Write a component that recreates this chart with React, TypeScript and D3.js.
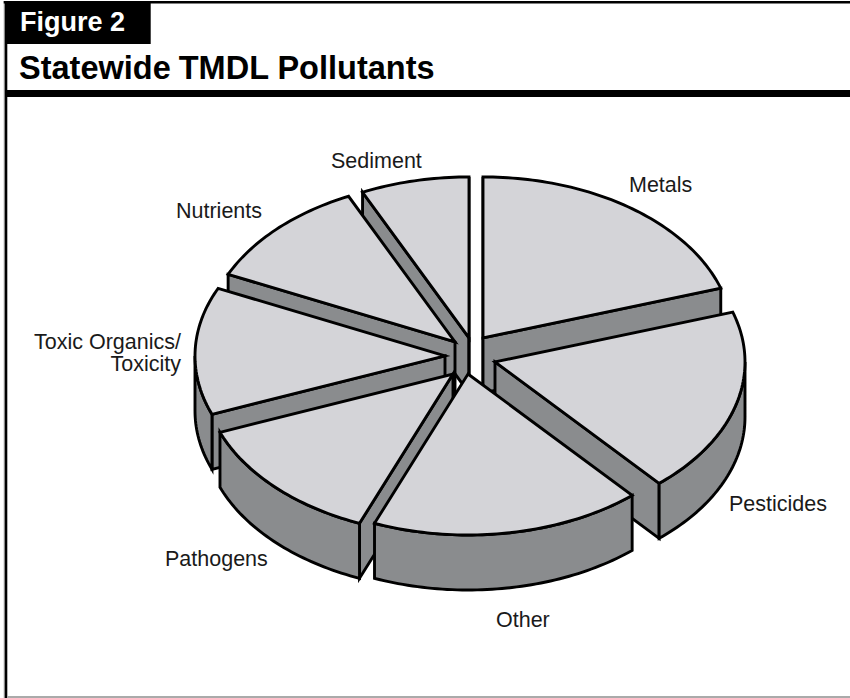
import React from "react";
import * as d3 from "d3";

// Share of statewide TMDLs per pollutant, clockwise from 12 o'clock.
const categories = ["Metals", "Pesticides", "Other", "Pathogens", "Toxic Organics/Toxicity", "Nutrients", "Sediment"];
const shares = [20, 18.6, 17.5, 13, 12.8, 11.1, 7];

// How far each wedge is pulled out of the pie, as a fraction of the radii.
const pullX = [0.056, 0.104, -0.004, -0.064, -0.096, -0.056, 0];
const pullY = [-0.106, 0.043, 0.118, 0.118, 0.006, -0.081, -0.106];

// Back-to-front drawing order so nearer wedges overlap farther ones.
const paintOrder = [6, 0, 5, 4, 1, 3, 2];

const W = 850;
const H = 698;
const CX = 469;
const CY = 355;
const RX = 250;
const RY = 161;
const DEPTH = 55;
const TOP_FILL = "#d4d4d8";
const WALL_FILL = "#8a8c8e";
const FONT = "'Liberation Sans', Arial, sans-serif";

const sx = d3.scaleLinear().domain([-1, 1]).range([-RX, RX]);
const sy = d3.scaleLinear().domain([-1, 1]).range([-RY, RY]);

type P = [number, number];
const toLine = d3.line<P>().x((d) => d[0]).y((d) => d[1]);

const pieAngles = d3.pie<number>().sort(null).value((d) => d)(shares);

function rim(a0: number, a1: number): P[] {
  const n = Math.max(2, Math.ceil(Math.abs(a1 - a0) / 0.02));
  return d3.range(n + 1).map((i) => {
    const a = a0 + ((a1 - a0) * i) / n;
    return [sx(Math.sin(a)), sy(-Math.cos(a))] as P;
  });
}

const down = (pts: P[]): P[] => pts.map(([x, y]) => [x, y + DEPTH] as P);

function Wedge({ index }: { index: number }) {
  const { startAngle, endAngle } = pieAngles[index];
  const ox = CX + sx(pullX[index]);
  const oy = CY + sy(pullY[index]);
  const apex: P = [0, 0];
  const outer = rim(startAngle, endAngle);
  const common = { stroke: "#000", strokeWidth: 2.9, strokeLinejoin: "miter" as const, strokeMiterlimit: 6 };

  const radialWall = (edge: P) => [apex, edge, [edge[0], edge[1] + DEPTH] as P, [0, DEPTH] as P];
  const walls: P[][] = [];
  // A cut face shows only when it turns toward the viewer.
  const eps = 1e-6;
  if (Math.sin(startAngle) <= eps) walls.push(radialWall(outer[0]));
  if (Math.sin(endAngle) >= -eps) walls.push(radialWall(outer[outer.length - 1]));
  // Only the part of the rim that faces the viewer gets an outer wall.
  const fa = Math.max(startAngle, Math.PI / 2);
  const fb = Math.min(endAngle, (3 * Math.PI) / 2);
  if (fb > fa) {
    const front = rim(fa, fb);
    walls.push([...front, ...down(front).reverse()]);
  }

  return (
    <g transform={`translate(${ox},${oy})`}>
      {walls.map((w, i) => (
        <path key={i} d={toLine(w)! + "Z"} fill={WALL_FILL} {...common} />
      ))}
      <path d={toLine([apex, ...outer])! + "Z"} fill={TOP_FILL} {...common} />
    </g>
  );
}

const labelStyle = { fontFamily: FONT, fontSize: 21.5, fill: "#1a1a1a" };

export default function App() {
  return (
    <svg
      width={W}
      height={H}
      viewBox={`0 0 ${W} ${H}`}
      style={{ position: "absolute", left: 0, top: 0, background: "#fff" }}
    >
      <rect x={0} y={0} width={W} height={H} fill="#fff" />
      <rect x={3.7} y={1} width={1} height={H - 1} fill="#aaa" />
      <rect x={4.7} y={1} width={2.6} height={H - 1} fill="#000" />
      <rect x={3.7} y={1} width={W - 3.7} height={2.5} fill="#000" />
      <rect x={7} y={696} width={W - 7} height={2} fill="#aaa" />
      <rect x={5} y={3} width={145.7} height={41} fill="#000" />
      <rect x={5} y={90} width={W - 5} height={7} fill="#000" />
      <text x={20} y={31} fontFamily={FONT} fontWeight={700} fontSize={27} fill="#fff">
        Figure 2
      </text>
      <text x={19} y={79} fontFamily={FONT} fontWeight={700} fontSize={32.5} fill="#000">
        Statewide
        <tspan dx={-1}> TMDL Pollutants</tspan>
      </text>

      {paintOrder.map((i) => (
        <Wedge key={categories[i]} index={i} />
      ))}

      <text x={331} y={168} {...labelStyle}>Sediment</text>
      <text x={629} y={192} {...labelStyle}>Metals</text>
      <text x={176} y={218} {...labelStyle}>Nutrients</text>
      <text x={181} y={349} textAnchor="end" {...labelStyle}>Toxic Organics/</text>
      <text x={181} y={371} textAnchor="end" {...labelStyle}>Toxicity</text>
      <text x={729} y={511} {...labelStyle}>Pesticides</text>
      <text x={496} y={627} {...labelStyle}>Other</text>
      <text x={165} y={566} {...labelStyle}>Pathogens</text>
    </svg>
  );
}
